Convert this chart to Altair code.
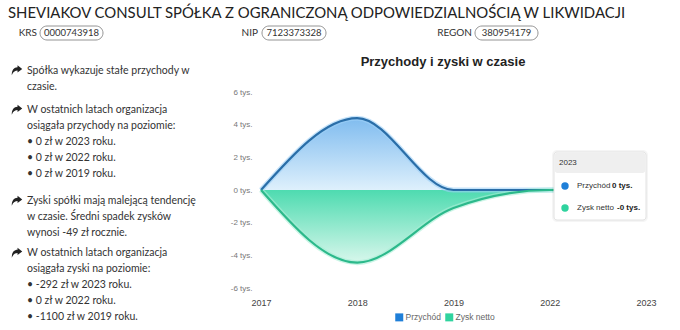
import altair as alt
import pandas as pd

# ---------------- data ----------------
years = ["2017", "2018", "2019", "2022", "2023"]
revenue = [0, 4400, 0, 0, 0]
profit = [0, -4450, -1100, 0, -292]
series_names = ["Przychód", "Zysk netto"]
y_ticks = [-6000, -4000, -2000, 0, 2000, 4000, 6000]

company = "SHEVIAKOV CONSULT SPÓŁKA Z OGRANICZONĄ ODPOWIEDZIALNOŚCIĄ W LIKWIDACJI"
id_labels = ["KRS", "NIP", "REGON"]
id_values = ["0000743918", "7123373328", "380954179"]
chart_title = "Przychody i zyski w czasie"
paragraphs = [
    ["Spółka wykazuje stałe przychody w", "czasie."],
    ["W ostatnich latach organizacja", "osiągała przychody na poziomie:",
     "• 0 zł w 2023 roku.", "• 0 zł w 2022 roku.", "• 0 zł w 2019 roku."],
    ["Zyski spółki mają malejącą tendencję", "w czasie. Średni spadek zysków",
     "wynosi -49 zł rocznie."],
    ["W ostatnich latach organizacja", "osiągała zyski na poziomie:",
     "• -292 zł w 2023 roku.", "• 0 zł w 2022 roku.", "• -1100 zł w 2019 roku."],
]

df = pd.DataFrame({
    "year": years * 2,
    "value": revenue + profit,
    "series": [series_names[0]] * len(years) + [series_names[1]] * len(years),
})

# ---------------- layout ----------------
OX, OY = 261, 92          # plot origin in page pixels
W, H = 385, 196
BLUE_LINE = "#2a6ea8"
GREEN_LINE = "#2cb98b"
BODY_FONT = "Lato"
ARIAL = "Liberation Sans"
SHARE_ICON = ("M 1 -0.3 L 0.1 -1 L 0.1 -0.62 C -0.6 -0.62 -1 -0.1 -1 0.9 "
              "C -0.7 0.2 -0.3 0.02 0.1 0.02 L 0.1 0.4 Z")

one = pd.DataFrame({"k": [0]})


def txt(text, x, y, size, color="#333333", font=BODY_FONT, weight="normal", align="left"):
    return alt.Chart(one).mark_text(
        align=align, baseline="middle", font=font, fontSize=size,
        fontWeight=weight, color=color
    ).encode(x=alt.value(x - OX), y=alt.value(y - OY), text=alt.value(text))


def box(x1, x2, y1, y2, fill="white", stroke=None, sw=1, radius=0, opacity=1):
    kw = dict(fill=fill, cornerRadius=radius, opacity=opacity)
    if stroke:
        kw.update(stroke=stroke, strokeWidth=sw)
    return alt.Chart(one).mark_rect(**kw).encode(
        x=alt.value(x1 - OX), x2=alt.value(x2 - OX),
        y=alt.value(y1 - OY), y2=alt.value(y2 - OY))


x_enc = alt.X("year:O", sort=years, scale=alt.Scale(type="point", padding=0),
              axis=alt.Axis(labelAngle=0, domain=False, ticks=False, tickSize=0,
                            labelPadding=10, labelFontSize=9, labelColor="#444444",
                            labelFont=ARIAL, title=None))
y_enc = alt.Y("value:Q", scale=alt.Scale(domain=[-6000, 6000], nice=False),
              axis=alt.Axis(values=y_ticks, labelExpr="datum.value/1000 + ' tys.'",
                            grid=False, domain=False, ticks=False, tickSize=0,
                            labelPadding=9, labelFontSize=8, labelColor="#777777",
                            labelFont=ARIAL, title=None))

base = alt.Chart(df).encode(x=x_enc, y=y_enc)

grad_blue = alt.Gradient(gradient="linear", x1=1, x2=1, y1=0, y2=1, stops=[
    alt.GradientStop(color="#80bcef", offset=0),
    alt.GradientStop(color="#def0fc", offset=1)])
grad_green = alt.Gradient(gradient="linear", x1=1, x2=1, y1=0, y2=1, stops=[
    alt.GradientStop(color="#4edbb0", offset=0),
    alt.GradientStop(color="#d8f7ec", offset=1)])

is_rev = alt.datum.series == series_names[0]
is_prof = alt.datum.series == series_names[1]

area_rev = base.transform_filter(is_rev).mark_area(interpolate="monotone", fill=grad_blue)
area_prof = base.transform_filter(is_prof).mark_area(interpolate="monotone", fill=grad_green)
halo_rev = base.transform_filter(is_rev).mark_line(interpolate="monotone", color="#9fd0f6",
                                                   strokeWidth=5, opacity=0.6)
halo_prof = base.transform_filter(is_prof).mark_line(interpolate="monotone", color="#a8eed6",
                                                     strokeWidth=5, opacity=0.6)
line_rev = base.transform_filter(is_rev).mark_line(interpolate="monotone", color=BLUE_LINE,
                                                   strokeWidth=2.2)
line_prof = base.transform_filter(is_prof).mark_line(interpolate="monotone", color=GREEN_LINE,
                                                     strokeWidth=2.2)
legend_pts = base.mark_point(shape="square", filled=True, opacity=0).encode(
    color=alt.Color("series:N", sort=series_names,
                    scale=alt.Scale(domain=series_names, range=["#1f7fd8", "#2fd39e"]),
                    legend=alt.Legend(orient="none", legendX=134, legendY=221,
                                      direction="horizontal", title=None,
                                      symbolType="square", symbolSize=64,
                                      symbolOpacity=1, symbolStrokeWidth=0,
                                      labelFontSize=8.5, labelColor="#666666",
                                      labelFont=ARIAL, labelOffset=2,
                                      columnPadding=4)))

layers = [area_rev, area_prof, halo_rev, halo_prof, line_rev, line_prof, legend_pts]

# chart title
layers.append(txt(chart_title, 443, 62, 13, color="#222222", font=ARIAL, weight="bold", align="center"))

# header
layers.append(txt(company, 8, 14, 14.9, color="#222222"))
label_end = [37, 258, 472]
pill_x = [(40, 103), (262, 326), (475, 538)]
for lab, val, lx, (p1, p2) in zip(id_labels, id_values, label_end, pill_x):
    layers.append(txt(lab, lx, 33, 10, align="right"))
    layers.append(box(p1, p2, 26, 40, fill="white", stroke="#888888", sw=0.9, radius=7))
    layers.append(txt(val, (p1 + p2) / 2, 33, 9.5, align="center"))

# left text
para_y = [70.5, 110, 201, 253]
for lines, y0 in zip(paragraphs, para_y):
    layers.append(alt.Chart(one).mark_point(shape=SHARE_ICON, filled=True, size=110,
                                            color="#222222", opacity=1).encode(
        x=alt.value(17 - OX), y=alt.value(y0 - OY)))
    for i, line in enumerate(lines):
        layers.append(txt(line, 27, y0 + i * 16, 10.5))

# tooltip (last year)
tt_year = years[-1]
tt_vals = [f"{revenue[-1] / 1000:.0f} tys.", f"{profit[-1] / 1000:.0f} tys."]
layers.append(box(552, 648, 150, 222, fill="#000000", radius=5, opacity=0.04))
layers.append(box(554, 646, 152, 220, fill="white", stroke="#e2e2e2", sw=1, radius=3))
layers.append(box(554.5, 645.5, 152.5, 173, fill="#efefef", radius=3))
layers.append(txt(tt_year, 559, 162.5, 8, font=ARIAL))
dot_colors = ["#1f7fd8", "#2fd39e"]
val_x = [612, 617]
for name, val, yy, col, vx in zip(series_names, tt_vals, [186, 208], dot_colors, val_x):
    layers.append(alt.Chart(one).mark_circle(size=55, color=col, opacity=1).encode(
        x=alt.value(565 - OX), y=alt.value(yy - OY)))
    layers.append(txt(name, 577, yy, 8, font=ARIAL))
    layers.append(txt(val, vx, yy, 8, font=ARIAL, weight="bold", color="#222222"))

chart = alt.layer(*layers).properties(
    width=W, height=H,
    autosize=alt.AutoSizeParams(type="none"),
    padding={"left": OX, "top": OY, "right": 680 - OX - W, "bottom": 330 - OY - H},
    background="white",
).configure_view(strokeWidth=0)

chart.save("out.html", embed_options={"renderer": "svg", "actions": False})
